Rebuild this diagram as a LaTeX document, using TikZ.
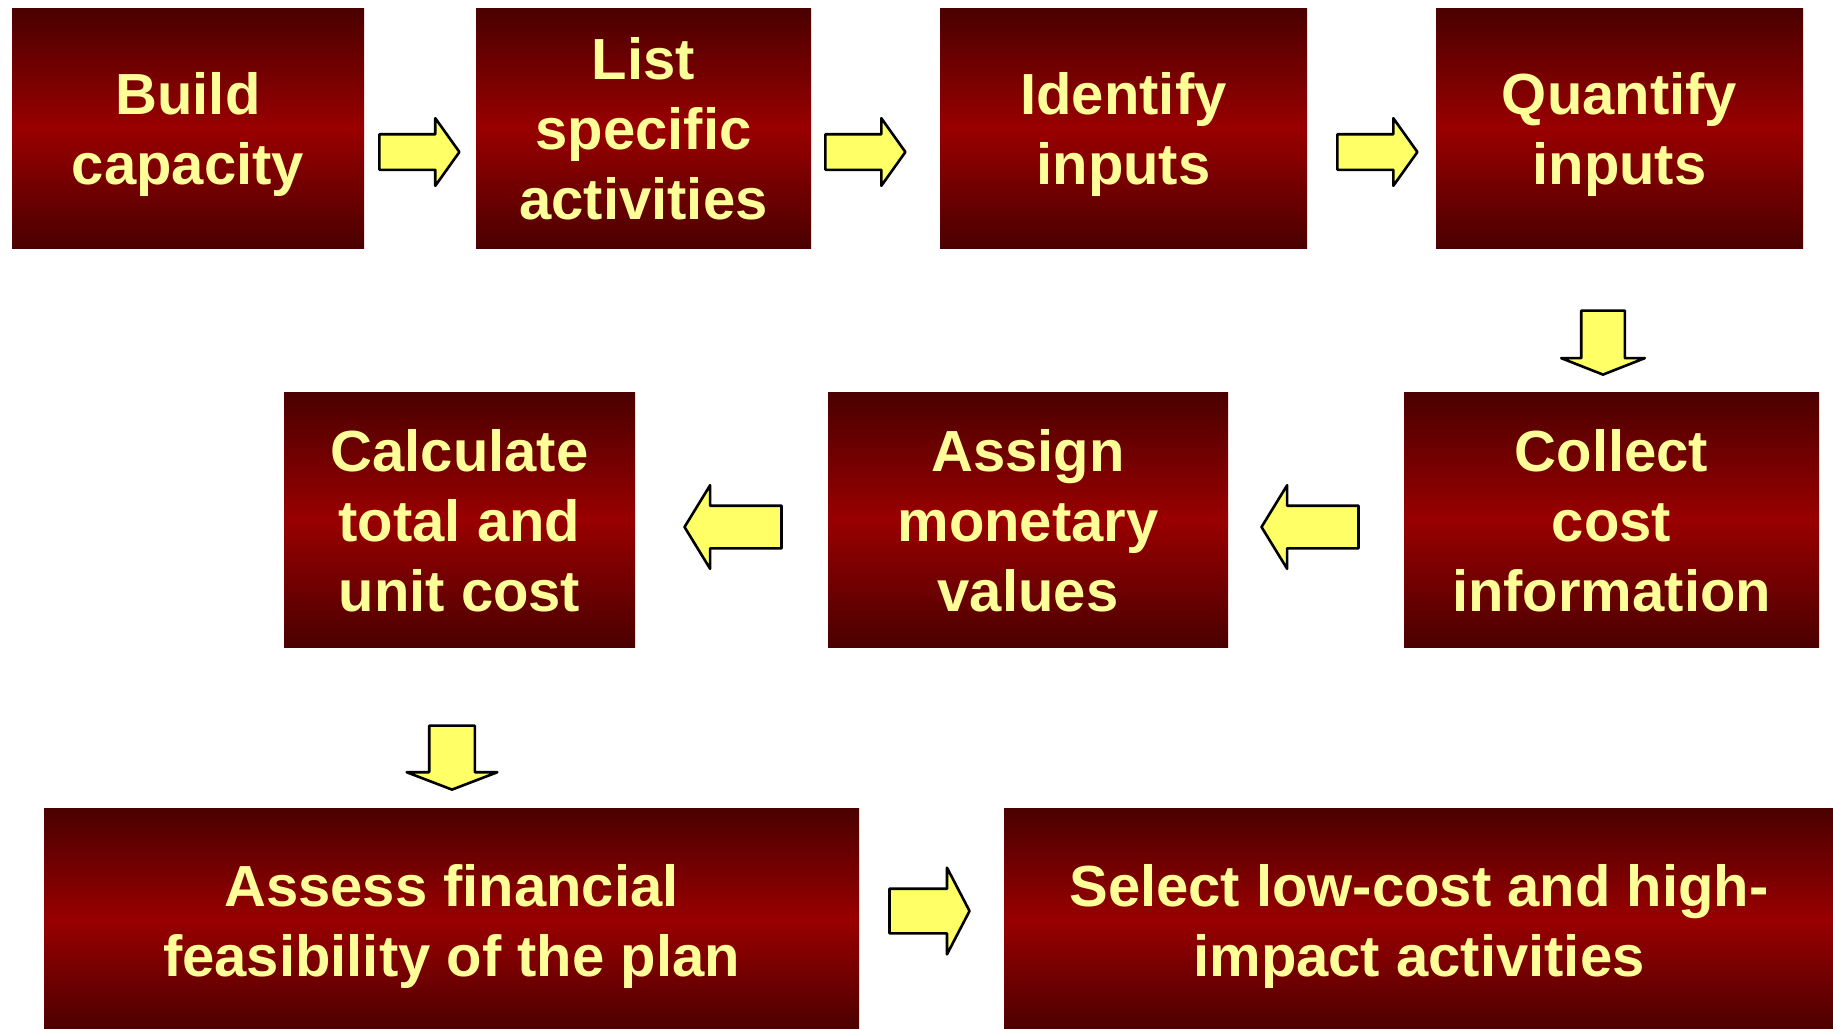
\documentclass[tikz,border=0pt]{standalone}
\usepackage{fontspec}
\setmainfont{Liberation Sans}
\usetikzlibrary{shapes.arrows}
\definecolor{boxdark}{RGB}{74,0,0}
\definecolor{boxred}{RGB}{153,0,0}
\definecolor{txtyellow}{RGB}{255,255,153}
\definecolor{arrowyellow}{RGB}{255,255,102}
% altura fixa da primeira e da ultima linha
\newcommand{\boxlines}[1]{\rule{0pt}{28.5pt}#1\rule[-7pt]{0pt}{7pt}}
\begin{document}
\begin{tikzpicture}[x=0.5pt, y=-0.5pt,
    redbox/.style={rectangle, inner sep=0pt, top color=boxdark, bottom color=boxdark, middle color=boxred,
        text=txtyellow, align=center, font=\fontsize{29}{35}\selectfont\bfseries},
    yarrow/.style={single arrow, draw=black, line width=1.3pt, line join=round, fill=arrowyellow, inner sep=0pt,
        single arrow head indent=0pt, anchor=tip}]
    % Área da figura
    \useasboundingbox (0,0) rectangle (1833,1029);
    \clip (0,0) rectangle (1833,1029);

    % Caixas - primeira linha
    \node[redbox, minimum width=176pt, minimum height=120pt] (build) at (188,128) {\boxlines{Build\\capacity}};
    \node[redbox, minimum width=167.5pt, minimum height=120pt] (list) at (643.5,128) {\boxlines{List\\specific\\activities}};
    \node[redbox, minimum width=183.5pt, minimum height=120pt] (identify) at (1123.5,128) {\boxlines{Identify\\inputs}};
    \node[redbox, minimum width=183.5pt, minimum height=120pt] (quantify) at (1619.5,128) {\boxlines{Quantify\\inputs}};

    % Caixas - segunda linha
    \node[redbox, minimum width=207.5pt, minimum height=127.5pt] (collect) at (1611.5,519.5) {\boxlines{Collect\\cost\\information}};
    \node[redbox, minimum width=200pt, minimum height=127.5pt] (assign) at (1028,519.5) {\boxlines{Assign\\monetary\\values}};
    \node[redbox, minimum width=175.5pt, minimum height=127.5pt] (calc) at (459.5,519.5) {\boxlines{Calculate\\total and\\unit cost}};

    % Caixas - terceira linha (cortadas embaixo)
    \node[redbox, minimum width=407.5pt, minimum height=112pt] (assess) at (451.5,920) {\boxlines{Assess financial\\feasibility of the plan}};
    \node[redbox, minimum width=415pt, minimum height=112pt] (select) at (1419,920) {\boxlines{Select low-cost and high-\\impact activities}};

    % Setas para a direita
    \node[yarrow, minimum height=40pt, inner ysep=8.25pt, single arrow head extend=8pt, single arrow tip angle=109] (a1) at (461,152) {};
    \node[yarrow, minimum height=40pt, inner ysep=8.25pt, single arrow head extend=8pt, single arrow tip angle=109] (a2) at (907,152) {};
    \node[yarrow, minimum height=40pt, inner ysep=8.25pt, single arrow head extend=8pt, single arrow tip angle=109] (a3) at (1419,152) {};

    % Seta para baixo
    \node[yarrow, rotate=-90, minimum height=32pt, inner ysep=10.25pt, single arrow head extend=10pt, single arrow tip angle=137] (a4) at (1603,376) {};

    % Setas para a esquerda
    \node[yarrow, rotate=180, minimum height=48.5pt, inner ysep=10pt, single arrow head extend=10.25pt, single arrow tip angle=117] (a5) at (1260,527) {};
    \node[yarrow, rotate=180, minimum height=48.5pt, inner ysep=10pt, single arrow head extend=10.25pt, single arrow tip angle=117] (a6) at (683,527) {};

    % Seta para baixo e seta final
    \node[yarrow, rotate=-90, minimum height=32pt, inner ysep=10.75pt, single arrow head extend=11.25pt, single arrow tip angle=138] (a7) at (452,791) {};
    \node[yarrow, minimum height=40pt, inner ysep=10.5pt, single arrow head extend=10.5pt, single arrow tip angle=125] (a8) at (971,911) {};
\end{tikzpicture}
\end{document}
